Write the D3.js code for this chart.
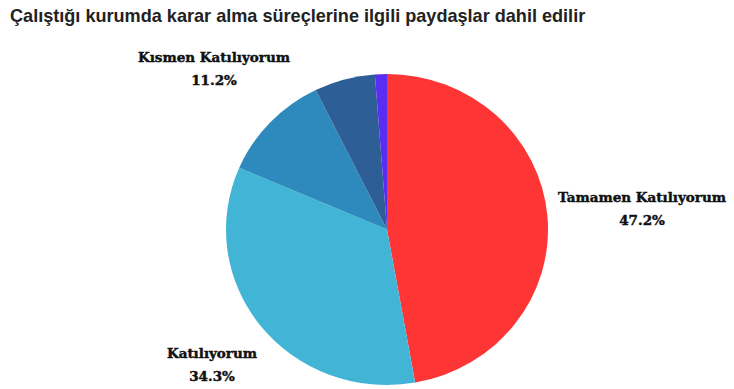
<!DOCTYPE html>
<html>
<head>
<meta charset="utf-8">
<script src="https://cdn.jsdelivr.net/npm/d3@7"></script>
<style>
  html, body { margin: 0; padding: 0; background: #ffffff; }
  svg { display: block; }
</style>
</head>
<body>
<svg id="chart" width="734" height="389"></svg>
<script>
// Survey answers, in drawing order (clockwise from 12 o'clock)
const categories = ["Tamamen Katılıyorum", "Katılıyorum", "Kısmen Katılıyorum", "Katılmıyorum", "Hiç Katılmıyorum"];
const shares = [47.2, 34.3, 11.2, 6.1, 1.2];
const colors = ["#fd3535", "#42b5d6", "#2e8abc", "#2e5e96", "#5a2ef2"];
// Only the three largest answers carry an outside label
const labelled = [true, true, true, false, false];

const title = "Çalıştığı kurumda karar alma süreçlerine ilgili paydaşlar dahil edilir";

const svg = d3.select("#chart");

svg.append("text")
  .attr("x", 10)
  .attr("y", 22)
  .attr("font-family", "Liberation Sans, Arial, sans-serif")
  .attr("font-weight", "bold")
  .attr("font-size", 18.1)
  .attr("fill", "#222")
  .text(title);

const cx = 387, cy = 229.5;
const rx = 161, ry = 155.5;

const data = categories.map((c, i) => ({ name: c, value: shares[i], color: colors[i], label: labelled[i] }));

const pie = d3.pie().value(d => d.value).sort(null);
const arcs = pie(data);
const arc = d3.arc().innerRadius(0).outerRadius(rx);

const g = svg.append("g")
  .attr("transform", `translate(${cx},${cy}) scale(1,${ry / rx})`);

g.selectAll("path")
  .data(arcs)
  .join("path")
  .attr("d", arc)
  .attr("fill", d => d.data.color);

// Outside labels: name on the first line, share on the second
const labelPos = {
  "Tamamen Katılıyorum": [642, 202],
  "Katılıyorum": [212, 358],
  "Kısmen Katılıyorum": [214, 62]
};

const fmt = v => d3.format(".1f")(v) + "%";

const labels = svg.append("g")
  .attr("font-family", "DejaVu Serif, serif")
  .attr("font-weight", "bold")
  .attr("font-size", 13.5)
  .attr("fill", "#111")
  .attr("stroke", "#111")
  .attr("stroke-width", 0.45)
  .attr("text-anchor", "middle");

arcs.filter(d => d.data.label).forEach(d => {
  const [x, y] = labelPos[d.data.name];
  const t = labels.append("text").attr("x", x).attr("y", y);
  t.append("tspan").attr("x", x).attr("dy", 0).text(d.data.name);
  t.append("tspan").attr("x", x).attr("dy", 23).text(fmt(d.data.value));
});
</script>
</body>
</html>
